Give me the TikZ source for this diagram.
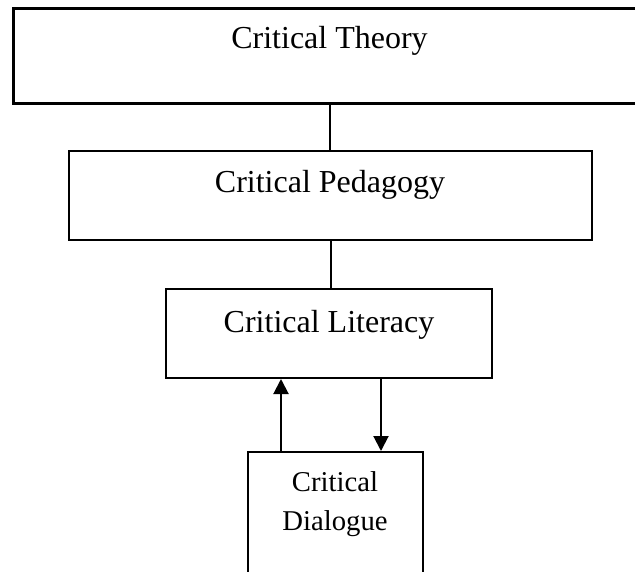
\documentclass[tikz,border=0pt]{standalone}
\usepackage{fontspec}
\setmainfont{Liberation Serif}
\usetikzlibrary{arrows.meta}
\tikzset{
  box/.style={draw=black, line width=2pt, fill=white, inner sep=0pt, rectangle},
  bigbox/.style={box, line width=3pt},
  txt/.style={anchor=base, inner sep=0pt, font=\fontsize{32}{38}\selectfont},
  smalltxt/.style={anchor=base, inner sep=0pt, font=\fontsize{28.7}{39}\selectfont},
  link/.style={draw=black, line width=2pt},
  arr/.style={link, -{Triangle[width=15pt,length=15pt]}}
}
\begin{document}
\begin{tikzpicture}[x=1pt,y=-1pt]
\clip (0,0) rectangle (635,571);
\fill[white] (0,0) rectangle (635,571);
% boxes
\node[bigbox, minimum width=634pt, minimum height=95pt] (b1) at (330,55.5) {};
\node[box, minimum width=523pt, minimum height=89pt] (b2) at (330.5,195.5) {};
\node[box, minimum width=326pt, minimum height=89pt] (b3) at (329,333.5) {};
\node[box, minimum width=175pt, minimum height=170pt] (b4) at (335.5,537) {};
% texts
\node[txt] (t1) at (329.5,48) {Critical Theory};
\node[txt] (t2) at (330,192) {Critical Pedagogy};
\node[txt] (t3) at (329,332) {Critical Literacy};
\node[smalltxt] (t4a) at (335,491) {Critical};
\node[smalltxt] (t4b) at (335,530) {Dialogue};
% connectors
\coordinate (c1) at (330,0);
\coordinate (c2) at (331,0);
\coordinate (up) at (281,0);
\coordinate (dn) at (381,0);
\draw[link] (b1.south -| c1) -- (b2.north -| c1);
\draw[link] (b2.south -| c2) -- (b3.north -| c2);
\draw[arr] (b4.north -| up) -- (b3.south -| up);
\draw[arr] (b3.south -| dn) -- (b4.north -| dn);
\end{tikzpicture}
\end{document}
